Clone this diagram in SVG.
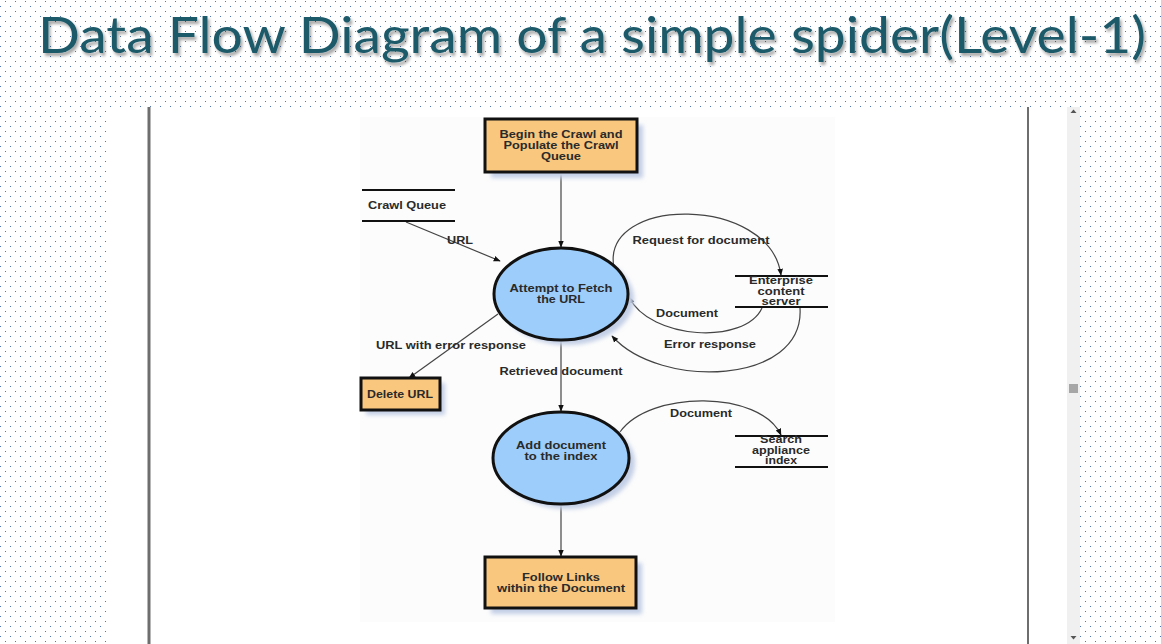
<svg xmlns="http://www.w3.org/2000/svg" width="1161" height="644" viewBox="0 0 1161 644">
  <defs>
    <!-- dotted slide background -->
    <pattern id="dots" width="10" height="10" patternUnits="userSpaceOnUse">
      <rect x="5" y="1" width="1" height="1" fill="#4f76b6"/>
      <rect x="0" y="6" width="1" height="1" fill="#4f76b6"/>
    </pattern>
    <filter id="titleShadow" x="-5%" y="-20%" width="110%" height="160%">
      <feGaussianBlur in="SourceAlpha" stdDeviation="1.5"/>
      <feOffset dx="2" dy="3" result="b"/>
      <feComponentTransfer><feFuncA type="linear" slope="0.35"/></feComponentTransfer>
      <feMerge><feMergeNode/><feMergeNode in="SourceGraphic"/></feMerge>
    </filter>
    <filter id="soft" x="-20%" y="-20%" width="140%" height="140%">
      <feGaussianBlur stdDeviation="2"/>
    </filter>
    <marker id="arrow" viewBox="0 0 10 10" refX="9" refY="5" markerWidth="7" markerHeight="7" orient="auto" markerUnits="userSpaceOnUse">
      <path d="M0,1 L10,5 L0,9 z" fill="#111"/>
    </marker>
    <style>
      .title { font-family: Lato, "Open Sans", sans-serif; font-size: 51px; fill: #1f5a6a; }
      .lbl { font-family: "Liberation Sans", Arial, sans-serif; font-weight: bold; font-size: 10.5px; fill: #2a2a2a; text-anchor: middle; }
      .box { fill: #f9c77e; stroke: #111; stroke-width: 3; }
      .proc { fill: #9dcdfa; stroke: #111; stroke-width: 3; }
      .shadow { fill: #c3cfe6; filter: url(#soft); }
      .store { stroke: #111; stroke-width: 2.2; }
      .flow { fill: none; stroke: #444; stroke-width: 1.2; marker-end: url(#arrow); }
    </style>
  </defs>

  <!-- background -->
  <rect width="1161" height="644" fill="#ffffff"/>
  <rect width="1161" height="644" fill="url(#dots)"/>

  <!-- title -->
  <text class="title" x="38" y="53" textLength="1108" lengthAdjust="spacingAndGlyphs" filter="url(#titleShadow)">Data Flow Diagram of a simple spider(Level-1)</text>

  <!-- document viewer frame -->
  <g id="viewer">
    <rect x="110" y="107" width="970" height="537" fill="#ffffff"/>
    <rect x="147.5" y="107" width="3" height="537" fill="#6e6e6e"/>
    <rect x="1027" y="107" width="2" height="537" fill="#6e6e6e"/>
    <rect x="1067" y="107" width="13" height="537" fill="#f0f0f0"/>
    <rect x="1069" y="384" width="9" height="9" fill="#a6a6a6"/>
    <path d="M1070.5,113 L1073.5,109.5 L1076.5,113 z" fill="#555"/>
    <path d="M1070.5,636 L1073.5,639.5 L1076.5,636 z" fill="#555"/>
    <rect x="360" y="117" width="475" height="505" fill="#fcfcfc"/>
  </g>

  <!-- connectors -->
  <g id="connectors">
    <path class="flow" d="M561,173 L561,247"/>
    <path class="flow" d="M406,222 L500,261"/>
    <path class="flow" d="M614,268 C600,195 770,195 781,275"/>
    <path class="flow" d="M762,308 C745,345 650,340 629,297"/>
    <path class="flow" d="M800,308 C805,385 660,390 612,336"/>
    <path class="flow" d="M498,314 L409,378"/>
    <path class="flow" d="M561,342 L561,411"/>
    <path class="flow" d="M620,432 C650,390 760,390 781,435"/>
    <path class="flow" d="M561,506 L561,556"/>
    <text class="lbl" x="460" y="244" textLength="26" lengthAdjust="spacingAndGlyphs">URL</text>
    <text class="lbl" x="701" y="244" textLength="137" lengthAdjust="spacingAndGlyphs">Request for document</text>
    <text class="lbl" x="687" y="317" textLength="62" lengthAdjust="spacingAndGlyphs">Document</text>
    <text class="lbl" x="710" y="348" textLength="92" lengthAdjust="spacingAndGlyphs">Error response</text>
    <text class="lbl" x="451" y="349" textLength="150" lengthAdjust="spacingAndGlyphs">URL with error response</text>
    <text class="lbl" x="561" y="375" textLength="123" lengthAdjust="spacingAndGlyphs">Retrieved document</text>
    <text class="lbl" x="701" y="417" textLength="62" lengthAdjust="spacingAndGlyphs">Document</text>
  </g>

  <g id="begin-crawl">
    <rect class="shadow" x="491" y="125" width="152" height="53"/>
    <rect class="box" x="485" y="119" width="152" height="53"/>
    <text class="lbl" x="561" y="138" textLength="123" lengthAdjust="spacingAndGlyphs">Begin the Crawl and</text>
    <text class="lbl" x="561" y="149" textLength="115" lengthAdjust="spacingAndGlyphs">Populate the Crawl</text>
    <text class="lbl" x="561" y="160" textLength="40" lengthAdjust="spacingAndGlyphs">Queue</text>
  </g>

  <g id="crawl-queue">
    <line class="store" x1="362" y1="190" x2="455" y2="190"/>
    <line class="store" x1="362" y1="221" x2="455" y2="221"/>
    <text class="lbl" x="407" y="209" textLength="78" lengthAdjust="spacingAndGlyphs">Crawl Queue</text>
  </g>

  <g id="fetch-url">
    <ellipse class="shadow" cx="567" cy="299" rx="67" ry="46"/>
    <ellipse class="proc" cx="561" cy="294" rx="67" ry="46"/>
    <text class="lbl" x="561" y="292" textLength="103" lengthAdjust="spacingAndGlyphs">Attempt to Fetch</text>
    <text class="lbl" x="561" y="303" textLength="48" lengthAdjust="spacingAndGlyphs">the URL</text>
  </g>

  <g id="enterprise-server">
    <line class="store" x1="735" y1="276" x2="828" y2="276"/>
    <line class="store" x1="735" y1="307" x2="828" y2="307"/>
    <text class="lbl" x="781" y="284" textLength="64" lengthAdjust="spacingAndGlyphs">Enterprise</text>
    <text class="lbl" x="781" y="295" textLength="47" lengthAdjust="spacingAndGlyphs">content</text>
    <text class="lbl" x="781" y="305" textLength="39" lengthAdjust="spacingAndGlyphs">server</text>
  </g>

  <g id="delete-url">
    <rect class="shadow" x="366" y="383" width="79" height="32"/>
    <rect class="box" x="361" y="378" width="79" height="32"/>
    <text class="lbl" x="400" y="398" textLength="66" lengthAdjust="spacingAndGlyphs">Delete URL</text>
  </g>

  <g id="add-document">
    <ellipse class="shadow" cx="567" cy="463" rx="68" ry="46"/>
    <ellipse class="proc" cx="561" cy="458" rx="68" ry="46"/>
    <text class="lbl" x="561" y="449" textLength="90" lengthAdjust="spacingAndGlyphs">Add document</text>
    <text class="lbl" x="561" y="460" textLength="73" lengthAdjust="spacingAndGlyphs">to the index</text>
  </g>

  <g id="search-index">
    <line class="store" x1="735" y1="436" x2="828" y2="436"/>
    <line class="store" x1="735" y1="467" x2="828" y2="467"/>
    <text class="lbl" x="781" y="443" textLength="42" lengthAdjust="spacingAndGlyphs">Search</text>
    <text class="lbl" x="781" y="454" textLength="58" lengthAdjust="spacingAndGlyphs">appliance</text>
    <text class="lbl" x="781" y="464" textLength="32" lengthAdjust="spacingAndGlyphs">index</text>
  </g>

  <g id="follow-links">
    <rect class="shadow" x="491" y="563" width="151" height="51"/>
    <rect class="box" x="485" y="557" width="151" height="51"/>
    <text class="lbl" x="561" y="581" textLength="78" lengthAdjust="spacingAndGlyphs">Follow Links</text>
    <text class="lbl" x="561" y="592" textLength="128" lengthAdjust="spacingAndGlyphs">within the Document</text>
  </g>
</svg>
